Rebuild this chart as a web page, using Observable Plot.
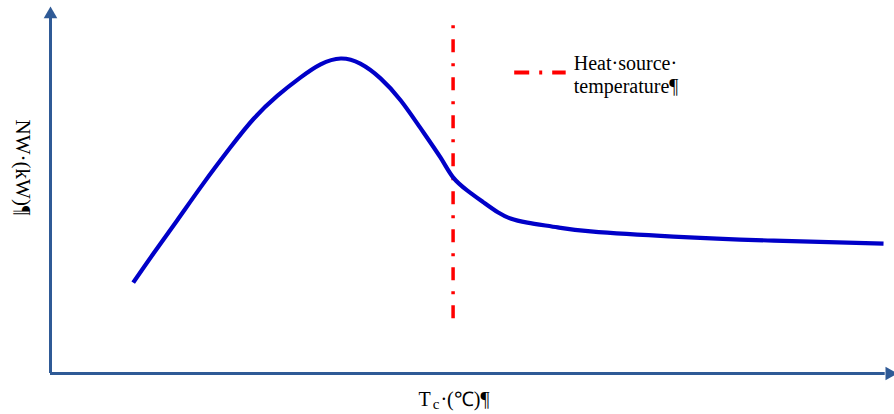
<!DOCTYPE html>
<html>
<head>
<meta charset="utf-8">
<script src="https://cdn.jsdelivr.net/npm/d3@7"></script>
<script src="https://cdn.jsdelivr.net/npm/@observablehq/plot@0.6"></script>
<style>
  html, body { margin: 0; padding: 0; background: #fff; }
  #chart svg { display: block; }
</style>
</head>
<body>
<div id="chart"></div>
<script>
// Curve: condensing temperature (arbitrary units 0-100) vs net work (arbitrary units 0-100)
const tc = [9.8, 12.2, 15.0, 18.1, 21.3, 24.1, 26.9, 29.6, 32.0, 34.4, 36.7, 39.1, 41.5, 43.8, 46.2, 47.7, 49.4, 51.3, 53.0, 54.5, 56.5, 60.1, 64.0, 73.8, 85.7, 98.7];
const nw = [24.7, 32.6, 41.6, 51.6, 61.4, 69.3, 75.5, 80.4, 84.0, 85.6, 84.2, 80.2, 74.2, 66.8, 58.7, 53.3, 49.7, 46.5, 43.8, 42.1, 41.0, 39.7, 38.6, 37.2, 36.1, 35.3];

// Heat source temperature marker
const heatSourceT = [47.7];
const heatSourceRange = [14.9, 95.4];

// Legend
const legendLabel = ["Heat·source·", "temperature¶"];
const legendLine = {x1: 55.0, x2: 61.1, y: 81.8};
const legendTextX = 62.0;
const legendTextY = [82.6, 76.1];

// Axis titles
const yTitle = "NW·(kW)¶";
const xTitleMain = "T";
const xTitleSub = "c";
const xTitleRest = "·(℃)¶";

// Axis extents
const xAxisEnd = 99.4;
const yAxisEnd = 97.6;

const data = tc.map((t, i) => ({t, nw: nw[i]}));

const axisColor = "#2F5A96";
const font = "'Liberation Serif', 'Times New Roman', serif";

const chart = Plot.plot({
  width: 894,
  height: 414,
  marginLeft: 50,
  marginRight: 0,
  marginTop: 5,
  marginBottom: 41,
  x: {domain: [0, 100], axis: null},
  y: {domain: [0, 100], axis: null},
  style: {fontFamily: font, background: "#fff", overflow: "visible"},
  marks: [
    // axes
    Plot.ruleX([0], {y1: 0, y2: yAxisEnd - 1, stroke: axisColor, strokeWidth: 3}),
    Plot.ruleY([0], {x1: 0, x2: xAxisEnd - 0.5, stroke: axisColor, strokeWidth: 3}),
    Plot.dot([{x: 0, y: yAxisEnd}], {x: "x", y: "y", symbol: "triangle2", r: 6.5, fill: axisColor, stroke: null}),
    Plot.dot([{x: xAxisEnd, y: 0}], {x: "x", y: "y", symbol: "triangle2", r: 6.5, fill: axisColor, stroke: null, rotate: 90}),
    // heat source temperature
    Plot.ruleX(heatSourceT, {y1: heatSourceRange[0], y2: heatSourceRange[1], stroke: "#FF0000", strokeWidth: 3.5, strokeDasharray: "13,11,3,11"}),
    // curve
    Plot.line(data, {x: "t", y: "nw", curve: "natural", stroke: "#0000C8", strokeWidth: 4.2, strokeLinecap: "butt"}),
    // legend
    Plot.ruleY([legendLine.y], {x1: legendLine.x1, x2: legendLine.x2, stroke: "#FF0000", strokeWidth: 4, strokeDasharray: "15,10,3,10"}),
    Plot.text(legendLabel, {x: legendTextX, y: (d, i) => legendTextY[i], text: d => d, textAnchor: "start", lineAnchor: "bottom", fontSize: 20, fill: "#000"}),
    // y title
    Plot.text([yTitle], {frameAnchor: "left", dx: -28, dy: -22, rotate: 90, textAnchor: "middle", fontSize: 21, fill: "#000"}),
    // x title
    Plot.text([xTitleMain], {x: 43.6, frameAnchor: "bottom", dy: 32, textAnchor: "start", lineAnchor: "bottom", fontSize: 20, fill: "#000"}),
    Plot.text([xTitleSub], {x: 45.3, frameAnchor: "bottom", dy: 35, textAnchor: "start", lineAnchor: "bottom", fontSize: 15, fill: "#000"}),
    Plot.text([xTitleRest], {x: 46.2, frameAnchor: "bottom", dy: 32, textAnchor: "start", lineAnchor: "bottom", fontSize: 20, fill: "#000"})
  ]
});
document.getElementById("chart").appendChild(chart);
</script>
</body>
</html>
